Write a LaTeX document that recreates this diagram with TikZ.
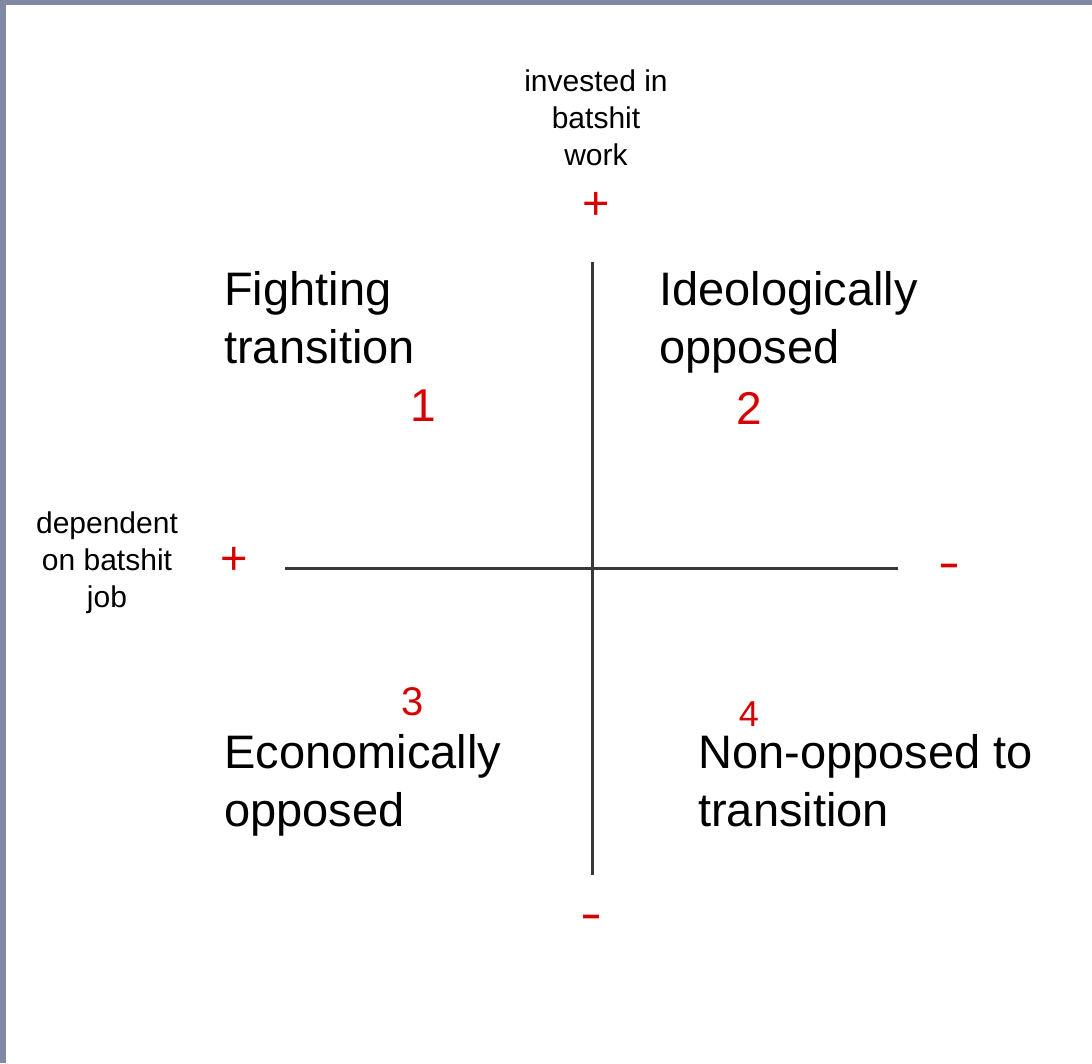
\documentclass[tikz,border=0pt]{standalone}
\usepackage{fontspec}
\setmainfont{Liberation Sans}
\definecolor{frame}{RGB}{128,136,163}
\definecolor{axisgray}{RGB}{56,56,56}
\definecolor{signred}{RGB}{214,0,0}
\begin{document}
\begin{tikzpicture}[x=1pt,y=-1pt,
  axis/.style={draw=axisgray,line width=3pt},
  small/.style={inner sep=0pt,align=center,font=\fontsize{30}{37}\selectfont},
  big/.style={inner sep=0pt,align=left,anchor=base west,font=\fontsize{47}{58}\selectfont},
  num/.style={inner sep=0pt,text=signred,font=\fontsize{46}{50}\selectfont},
  sign/.style={inner sep=0pt,text=signred,font=\fontsize{47}{50}\selectfont},
  minus/.style={sign,xscale=1.4,transform shape}]
\useasboundingbox (0,0) rectangle (1092,1063);
\fill[white] (0,0) rectangle (1092,1063);
\fill[frame] (0,0) rectangle (1092,5);
\fill[frame] (0,0) rectangle (6,1063);
% axes
\coordinate (vtop) at (592,262);
\coordinate (vbot) at (592,875);
\coordinate (hleft) at (285,568);
\coordinate (hright) at (898,568);
\draw[axis] (vtop) -- (vbot);
\draw[axis] (hleft) -- (hright);
% axis labels
\node[small] (ylab) at (596,118) {invested in\\batshit\\work};
\node[small] (xlab) at (107,563) {dependent\\on batshit\\job};
\node[sign] (yplus) at (596,206) {+};
\node[sign] (xplus) at (234,561) {+};
\node[minus] (xminus) at (949,571) {-};
\node[minus] (yminus) at (591,922) {-};
% quadrant labels (anchor = baseline of last line)
\node[big] (q1) at (224,363) {Fighting\\transition};
\node[big] (q2) at (659,363) {Ideologically\\opposed};
\node[big] (q3) at (224,826) {Economically\\opposed};
\node[big] (q4) at (698,826) {Non-opposed to\\transition};
% numbers
\node[num] (n1) at (423,406) {1};
\node[num] (n2) at (749,408) {2};
\node[num,font=\fontsize{40}{44}\selectfont] (n3) at (413,702) {3};
\node[num,font=\fontsize{36}{40}\selectfont] (n4) at (749,714) {4};
\end{tikzpicture}
\end{document}
